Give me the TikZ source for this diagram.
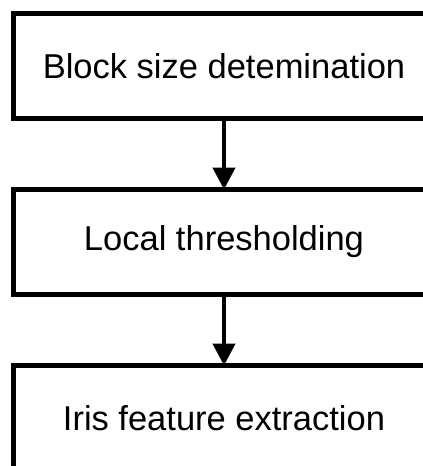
\documentclass[tikz,border=0pt]{standalone}
\usepackage{fontspec}
\setmainfont{Liberation Sans}
\usetikzlibrary{positioning, arrows.meta}

\begin{document}
\begin{tikzpicture}[
    x=1pt, y=1pt,
    % one box per processing step
    block/.style={
        draw,
        line width=5pt,
        rectangle,
        outer sep=0pt,
        minimum width=422pt,
        minimum height=105pt,
        font=\fontsize{34.5}{41}\selectfont,
        align=center
    },
    arr/.style={-{Triangle[width=22pt, length=22pt]}, line width=4.5pt}
]
    \useasboundingbox (0,0) rectangle (423,-466);

    % --- Nodes ---
    \node[block] (blk) at (224,-66) {Block size detemination};
    \node[block, below=71pt of blk] (thr) {Local thresholding};
    \node[block, below=71pt of thr] (feat) {Iris feature extraction};

    % --- Edges ---
    \draw[arr] (blk) -- (thr);
    \draw[arr] (thr) -- (feat);

\end{tikzpicture}
\end{document}
